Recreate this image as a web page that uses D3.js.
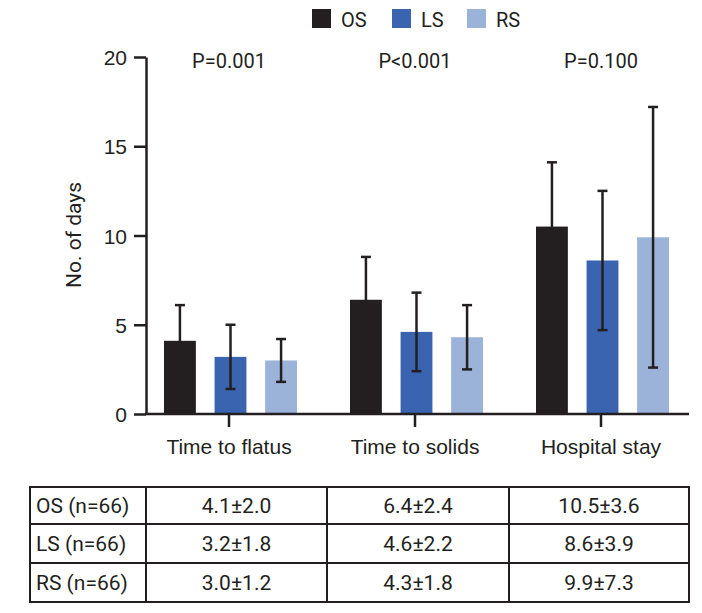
<!DOCTYPE html>
<html>
<head>
<meta charset="utf-8">
<script src="https://cdn.jsdelivr.net/npm/d3@7"></script>
<style>
  body { margin: 0; background: #fff; }
  svg { font-family: Roboto, "Noto Sans", sans-serif; }
</style>
</head>
<body>
<svg id="chart" width="702" height="613"></svg>
<script>
const categories = ["Time to flatus", "Time to solids", "Hospital stay"];
const groups = ["OS", "LS", "RS"];
const groupN = [66, 66, 66];
const osMean = [4.1, 6.4, 10.5];
const osSd = [2.0, 2.4, 3.6];
const lsMean = [3.2, 4.6, 8.6];
const lsSd = [1.8, 2.2, 3.9];
const rsMean = [3.0, 4.3, 9.9];
const rsSd = [1.2, 1.8, 7.3];
const pValues = ["P=0.001", "P<0.001", "P=0.100"];
const yTicks = [0, 5, 10, 15, 20];

const ink = "#231f20";
const colors = { OS: "#231f20", LS: "#3a64b0", RS: "#9cb3d9" };

const means = { OS: osMean, LS: lsMean, RS: rsMean };
const sds = { OS: osSd, LS: lsSd, RS: rsSd };

const svg = d3.select("#chart");

const x = d3.scaleBand().domain(categories).range([136, 694]);
const xSub = d3.scaleBand().domain(groups).range([28, 161]).paddingInner(0.37);
const y = d3.scaleLinear().domain([0, 20]).range([414, 57]);

// bars + error bars
const bars = [];
categories.forEach((c, i) => {
  groups.forEach((g) => {
    bars.push({ cat: c, group: g, mean: means[g][i], sd: sds[g][i] });
  });
});

const barG = svg.append("g");
barG.selectAll("rect")
  .data(bars)
  .enter()
  .append("rect")
  .attr("x", (d) => x(d.cat) + xSub(d.group))
  .attr("y", (d) => y(d.mean))
  .attr("width", xSub.bandwidth())
  .attr("height", (d) => y(0) - y(d.mean))
  .attr("fill", (d) => colors[d.group]);

const errG = svg.append("g")
  .attr("stroke", ink)
  .attr("stroke-width", 2.5)
  .attr("fill", "none");

bars.forEach((d) => {
  const cx = x(d.cat) + xSub(d.group) + xSub.bandwidth() / 2;
  const lo = y(d.mean - d.sd);
  const hi = y(d.mean + d.sd);
  errG.append("line").attr("x1", cx).attr("x2", cx).attr("y1", lo).attr("y2", hi);
  errG.append("line").attr("x1", cx - 5).attr("x2", cx + 5).attr("y1", hi).attr("y2", hi);
  errG.append("line").attr("x1", cx - 5).attr("x2", cx + 5).attr("y1", lo).attr("y2", lo);
});

// y axis
const yAxis = svg.append("g")
  .attr("transform", "translate(146,0)")
  .call(d3.axisLeft(y).tickValues(yTicks).tickSize(12).tickSizeOuter(0).tickPadding(7));
yAxis.select(".domain").attr("stroke", ink).attr("stroke-width", 2.5);
yAxis.selectAll(".tick line").attr("stroke", ink).attr("stroke-width", 2.5);
yAxis.selectAll(".tick text")
  .attr("fill", ink)
  .style("font-size", "21px")
  .attr("dy", "0.36em");

// x axis
const xAxis = svg.append("g")
  .attr("transform", `translate(0,${y(0)})`)
  .call(d3.axisBottom(x).tickSize(13).tickSizeOuter(0).tickPadding(12));
xAxis.select(".domain").remove();
xAxis.selectAll(".tick line").attr("stroke", ink).attr("stroke-width", 2.5);
xAxis.selectAll(".tick text")
  .attr("fill", ink)
  .style("font-size", "21px");
svg.append("line")
  .attr("x1", 145).attr("x2", 689)
  .attr("y1", y(0)).attr("y2", y(0))
  .attr("stroke", ink).attr("stroke-width", 2.5);

// y label
svg.append("text")
  .attr("transform", "translate(81,235) rotate(-90)")
  .attr("text-anchor", "middle")
  .attr("fill", ink)
  .style("font-size", "21px")
  .text("No. of days");

// p values
svg.append("g").selectAll("text")
  .data(pValues)
  .enter()
  .append("text")
  .attr("x", (d, i) => x(categories[i]) + x.bandwidth() / 2)
  .attr("y", 68)
  .attr("text-anchor", "middle")
  .attr("fill", ink)
  .style("font-size", "20px")
  .text((d) => d);

// legend
const legendX = [312, 392, 467];
const legend = svg.append("g").selectAll("g")
  .data(groups)
  .enter()
  .append("g")
  .attr("transform", (d, i) => `translate(${legendX[i]},9)`);
legend.append("rect")
  .attr("width", 19).attr("height", 19)
  .attr("fill", (d) => colors[d]);
legend.append("text")
  .attr("x", 29).attr("y", 18)
  .attr("fill", ink)
  .style("font-size", "20px")
  .text((d) => d);

// table
const colX = [30, 146, 327, 509, 689];
const rowY = [487, 524, 563, 602];
const table = svg.append("g");
const tableLines = table.append("g").attr("stroke", ink).attr("stroke-width", 2);
rowY.forEach((ry) => {
  tableLines.append("line").attr("x1", colX[0] - 1).attr("x2", colX[colX.length - 1] + 1).attr("y1", ry).attr("y2", ry);
});
colX.forEach((cx) => {
  tableLines.append("line").attr("x1", cx).attr("x2", cx).attr("y1", rowY[0]).attr("y2", rowY[rowY.length - 1]);
});

groups.forEach((g, r) => {
  const cy = (rowY[r] + rowY[r + 1]) / 2;
  table.append("text")
    .attr("x", colX[0] + 6)
    .attr("y", cy)
    .attr("dy", "0.36em")
    .attr("fill", ink)
    .style("font-size", "21px")
    .text(`${g} (n=${groupN[r]})`);
  categories.forEach((c, i) => {
    table.append("text")
      .attr("x", (colX[i + 1] + colX[i + 2]) / 2)
      .attr("y", cy)
      .attr("dy", "0.36em")
      .attr("text-anchor", "middle")
      .attr("fill", ink)
      .style("font-size", "21px")
      .text(`${means[g][i].toFixed(1)}±${sds[g][i].toFixed(1)}`);
  });
});
</script>
</body>
</html>
